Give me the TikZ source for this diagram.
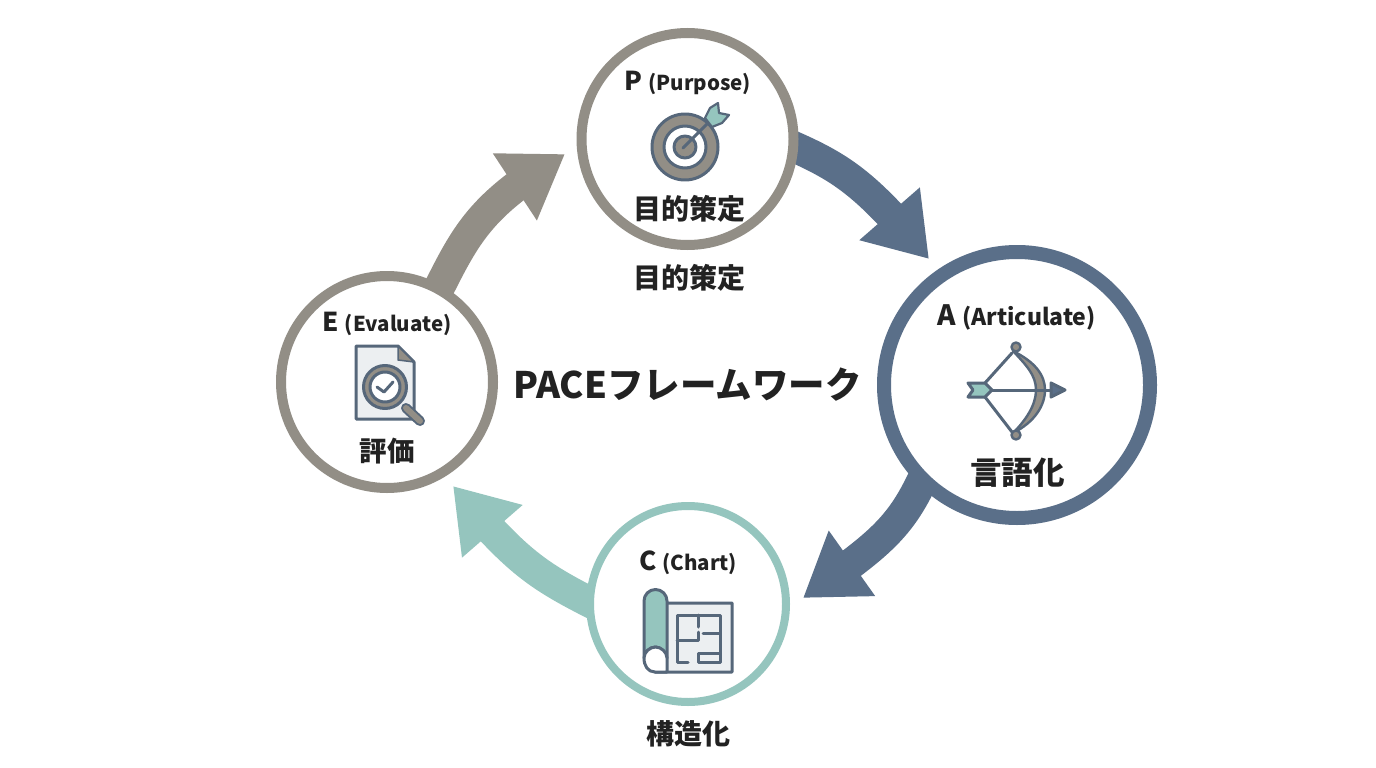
\documentclass[tikz,border=0pt]{standalone}
\usepackage{fontspec}
\setmainfont{Noto Sans CJK JP}
\usetikzlibrary{arrows.meta,backgrounds,bending}
\definecolor{ink}{HTML}{222222}
\definecolor{stone}{HTML}{928E86}
\definecolor{slate}{HTML}{5A6F89}
\definecolor{teal}{HTML}{95C5BE}
\definecolor{paper}{HTML}{ECEFF1}
\definecolor{iconline}{HTML}{56677A}
\newcommand{\fs}[1]{\fontsize{#1}{#1}\selectfont\bfseries}
\tikzset{
  ring/.style={circle,draw,fill=white,inner sep=0pt,outer sep=0pt},
  txt/.style={inner sep=0pt,text=ink,font=\bfseries},
  flow/.style={line width=31pt,shorten <=-12pt,-{Triangle[length=60pt,width=76pt,flex]}},
  ic/.style={draw=iconline,line width=3pt,line join=round,line cap=round},
}
\begin{document}
\begin{tikzpicture}[x=1pt,y=-1pt]
\useasboundingbox (0,0) rectangle (1376,768);
% rings
\node[ring,draw=stone,line width=10pt,minimum size=212pt] (P) at (687.5,139) {};
\node[ring,draw=slate,line width=14pt,minimum size=266pt] (A) at (1017,385) {};
\node[ring,draw=teal,line width=8pt,minimum size=196pt] (C) at (688,604) {};
\node[ring,draw=stone,line width=10pt,minimum size=212pt] (E) at (387,382) {};
% arrow tips
\coordinate (tipA) at (929,259);
\coordinate (tipC) at (803,598);
\coordinate (tipE) at (453,486);
\coordinate (tipP) at (565,154);
\begin{scope}[on background layer]
\fill[white] (0,0) rectangle (1376,768);
\draw[flow,slate] (P.356) .. controls (839,166) and (865,182) .. (tipA);
\draw[flow,slate] (A.225) .. controls (903,524) and (883,543) .. (tipC);
\draw[flow,teal] (C.179) .. controls (540,577) and (517,563) .. (tipE);
\draw[flow,stone] (E.61) .. controls (465,236) and (479,205) .. (tipP);
\end{scope}
% text
\node[txt] (Pt) at (688,83) {\fs{26}P \fs{20.5}(Purpose)};
\node[txt] (Pj) at (689,209) {\fs{28}目的策定};
\node[txt] (Pu) at (689,278) {\fs{28}目的策定};
\node[txt] (At) at (1016.5,317) {\fs{28}A \fs{23}(Articulate)};
\node[txt] (Aj) at (1017.5,473) {\fs{31.5}言語化};
\node[txt] (Ct) at (688,563) {\fs{26}C \fs{20.5}(Chart)};
\node[txt] (Cj) at (688.5,734) {\fs{28}構造化};
\node[txt] (Et) at (387,324) {\fs{26}E \fs{20.5}(Evaluate)};
\node[txt] (Ej) at (387,451) {\fs{27.5}評価};
\node[txt] (Title) at (687.5,385) {\fs{36.5}PACEフレームワーク};
% target icon
\filldraw[ic,fill=stone] (685,147) circle (33);
\filldraw[ic,fill=white] (685,147) circle (21);
\filldraw[ic,fill=stone] (685,147) circle (11);
\draw[ic,line width=3pt] (683,148) -- (711,120);
\filldraw[ic,fill=teal,line width=2.2pt] (705,118) -- (710,108) -- (718,103) -- (719,113) -- (729,115) -- (722,123) -- (712,127) -- cycle;
% bow icon
\filldraw[ic,fill=stone,line width=2.4pt] (1013,351) .. controls (1035,362) and (1045,375) .. (1045,390) .. controls (1045,405) and (1035,422) .. (1013,433) .. controls (1026,420) and (1036,405) .. (1036,390) .. controls (1036,375) and (1026,365) .. (1013,351) -- cycle;
\filldraw[ic,fill=stone,line width=2.4pt] (1016,347) circle (4.5);
\filldraw[ic,fill=stone,line width=2.4pt] (1016,435) circle (4.5);
\draw[ic] (1012,353) -- (985,383) (1012,432) -- (985,397);
\draw[ic] (990,390) -- (1052,390);
\filldraw[ic,fill=slate] (1051,383) -- (1065,390) -- (1051,397) -- cycle;
\filldraw[ic,fill=teal] (968,383) -- (985,383) -- (992,390) -- (985,397) -- (968,397) -- (973,390) -- cycle;
% map icon
\filldraw[ic,fill=paper] (660,603) -- (732,603) -- (732,672) -- (655,672) -- cycle;
\filldraw[ic,fill=teal] (644,658) -- (644,601) arc[start angle=180,end angle=360,radius=11.5] -- (667,658) .. controls (665,651) and (660,647) .. (655.5,647) .. controls (650,647) and (644,652) .. (644,658) -- cycle;
\filldraw[ic,fill=white] (644,658) .. controls (644,652) and (650,647) .. (655.5,647) .. controls (661,647) and (667,652) .. (667,658) -- (667,672) -- (655,672) .. controls (648,672) and (644,666) .. (644,658) -- cycle;
\draw[ic] (688,662) -- (677,662) -- (677,615) -- (720,615) -- (720,662) -- (698,662) -- (698,653) -- (720,653);
\draw[ic] (698,615) -- (698,627) (677,640) -- (698,640) -- (698,632) (703,633) -- (720,633);
% document icon
\filldraw[ic,fill=paper] (356,346) -- (398,346) -- (414,362) -- (414,419) -- (356,419) -- cycle;
\filldraw[ic,fill=stone,line width=1.5pt] (398,346) -- (398,360) -- (414,362) -- cycle;
\draw[iconline,line width=10pt,line cap=round] (406,408) -- (420,421);
\draw[stone,line width=6pt,line cap=round] (406,408) -- (420,421);
\filldraw[ic,fill=stone] (385,387) circle (21.5);
\filldraw[ic,fill=white] (385,387) circle (15);
\draw[ic] (377,387) -- (384,392) -- (393,382);
\end{tikzpicture}
\end{document}
